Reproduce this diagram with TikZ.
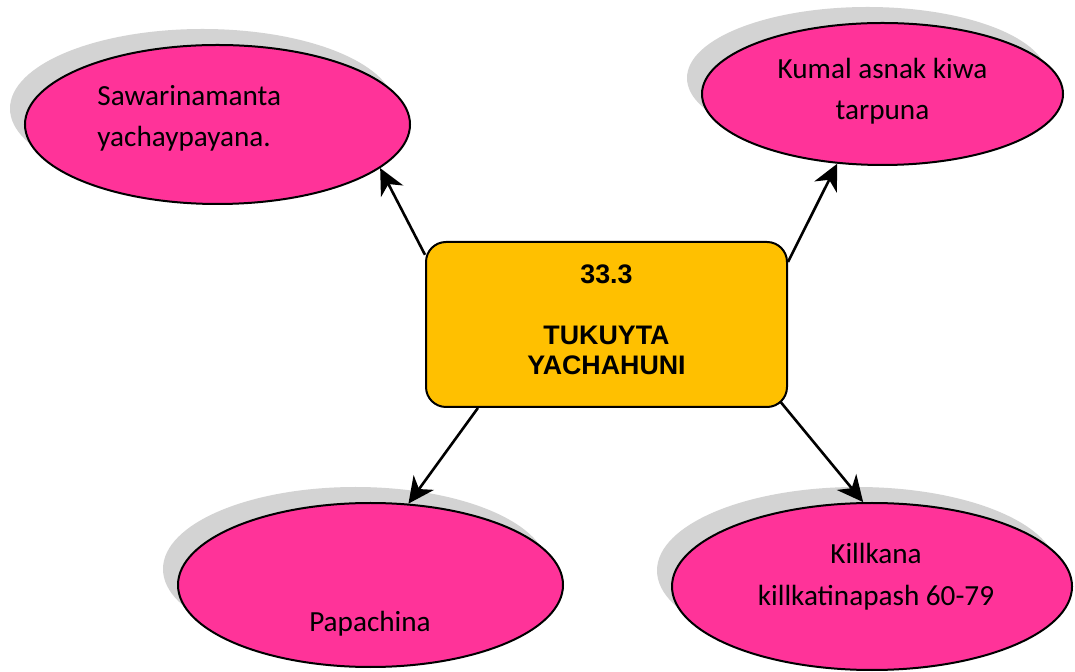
\documentclass[tikz,border=0pt]{standalone}
\usepackage{fontspec}
\setmainfont{Carlito}
\newfontfamily\boxfont{Liberation Sans}
\usetikzlibrary{shapes.geometric,shadows,arrows.meta}
\definecolor{bubblepink}{HTML}{FF3399}
\definecolor{boxgold}{HTML}{FFC000}
\definecolor{shadowgray}{HTML}{D3D3D3}
\begin{document}
\begin{tikzpicture}[x=0.5pt,y=-0.5pt,
        bubble/.style={draw,ellipse,line width=1pt,fill=bubblepink,inner sep=0pt,
            drop shadow={shadow xshift=-7.5pt,shadow yshift=8pt,fill=shadowgray,opacity=1}},
        bubbletext/.style={inner sep=0pt,font=\fontsize{14.6}{20.8}\selectfont},
        arr/.style={-{Stealth[length=13pt,width=12.5pt,inset=4pt]},line width=1.3pt}]
    \useasboundingbox (0,0) rectangle (1075,672);

    \node[bubble,minimum width=192.5pt,minimum height=79.5pt] (sawa) at (217.5,124.5) {};
    \node[bubbletext,align=left,anchor=base west] (sawa_text) at (97,146.7) {Sawarinamanta\\yachaypayana.};
    \node[bubble,minimum width=180.5pt,minimum height=71pt] (kumal) at (882.5,94) {};
    \node[bubbletext,align=center,anchor=base] (kumal_text) at (882.5,120) {Kumal asnak kiwa\\tarpuna};
    \node[bubble,minimum width=192.5pt,minimum height=82pt] (papa) at (370.5,585) {};
    \node[bubbletext,anchor=base] (papa_text) at (370,631.7) {Papachina};
    \node[bubble,minimum width=200pt,minimum height=83.5pt] (kill) at (872,586.5) {};
    \node[bubbletext,align=center,anchor=base] (kill_text) at (876,605) {Killkana\\killkatinapash 60-79};

    \node[draw,line width=1pt,rounded corners=10pt,fill=boxgold,
          minimum width=180.5pt,minimum height=82.5pt] (box) at (606.5,324.5) {};
    \node[inner sep=0pt,align=center,anchor=base,font=\boxfont\bfseries\fontsize{13.4}{15.4}\selectfont]
          (title) at (606.5,375) {33.3\\[15.1pt]TUKUYTA\\YACHAHUNI};

    \draw[arr] (box.159.4) -- (sawa.-15.5);
    \draw[arr] (box.19.9) -- (kumal.-123.8);
    \draw[arr] (box.213.4) -- (papa.65.1);
    \draw[arr,shorten <=-4pt] (box.-25.1) -- (kill.96.1);
\end{tikzpicture}
\end{document}
